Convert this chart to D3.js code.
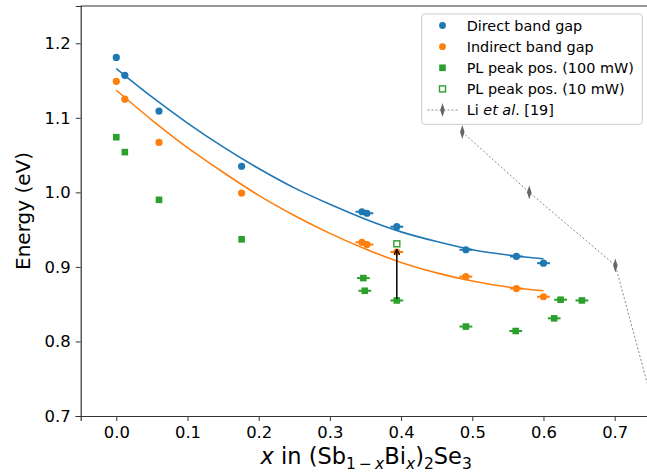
<!DOCTYPE html>
<html>
<head>
<meta charset="utf-8">
<script src="https://cdn.jsdelivr.net/npm/d3@7"></script>
<style>
  body { margin: 0; background: #fff; }
  svg text { font-family: "DejaVu Sans", sans-serif; fill: #000; }
</style>
</head>
<body>
<div id="chart"></div>
<script>
// band gaps vs Bi content
const directX = [0.0, 0.012, 0.06, 0.176, 0.345, 0.352, 0.394, 0.491, 0.562, 0.600];
const directY = [1.181, 1.157, 1.109, 1.035, 0.974, 0.972, 0.954, 0.923, 0.914, 0.905];
const directErr = [0, 0, 0, 0, 0.009, 0.009, 0.009, 0.009, 0.009, 0.009];

const indirectX = [0.0, 0.012, 0.06, 0.176, 0.345, 0.352, 0.394, 0.491, 0.562, 0.600];
const indirectY = [1.149, 1.125, 1.067, 0.999, 0.933, 0.930, 0.920, 0.887, 0.871, 0.860];
const indirectErr = [0, 0, 0, 0, 0.009, 0.009, 0.009, 0.009, 0.009, 0.009];

const pl100X = [0.0, 0.012, 0.06, 0.176, 0.347, 0.349, 0.394, 0.491, 0.561, 0.615, 0.624, 0.654];
const pl100Y = [1.074, 1.054, 0.990, 0.937, 0.885, 0.868, 0.855, 0.820, 0.814, 0.831, 0.856, 0.855];
const pl100Err = [0, 0, 0, 0, 0.009, 0.009, 0.009, 0.009, 0.009, 0.009, 0.009, 0.009];

const pl10X = [0.394];
const pl10Y = [0.931];

const liX = [0.486, 0.580, 0.701, 0.800];
const liY = [1.081, 1.000, 0.902, 0.552];

// fitted curves, sampled along the drawn lines
const fitX = [0.0, 0.05, 0.1, 0.15, 0.2, 0.25, 0.3, 0.35, 0.4, 0.45, 0.5, 0.55, 0.6];
const fitDirect = [1.166, 1.128, 1.093, 1.061, 1.032, 1.006, 0.984, 0.964, 0.947, 0.934, 0.923, 0.916, 0.911];
const fitIndirect = [1.137, 1.097, 1.060, 1.027, 0.996, 0.969, 0.945, 0.924, 0.906, 0.892, 0.881, 0.873, 0.868];

// arrow from PL 100 mW to PL 10 mW
const arrowX = 0.394;
const arrowY = [0.857, 0.923];

const xTicks = [0.0, 0.1, 0.2, 0.3, 0.4, 0.5, 0.6, 0.7];
const yTicks = [0.7, 0.8, 0.9, 1.0, 1.1, 1.2];

const legendLabels = ["Direct band gap", "Indirect band gap", "PL peak pos. (100 mW)", "PL peak pos. (10 mW)", "Li et al. [19]"];

const width = 647, height = 474;
const blue = "#1f77b4", orange = "#ff7f0e", green = "#2ca02c", grey = "#666666";

const svg = d3.select("#chart").append("svg")
  .attr("width", width)
  .attr("height", height);

// axes area runs past the right edge of the picture
const x = d3.scaleLinear().domain([-0.05, 0.752]).range([80.7, 651.7]);
const y = d3.scaleLinear().domain([0.7, 1.25]).range([416, 6]);

svg.append("defs").append("clipPath").attr("id", "plotclip")
  .append("rect")
  .attr("x", x(-0.05)).attr("y", y(1.25))
  .attr("width", x(0.752) - x(-0.05)).attr("height", y(0.7) - y(1.25));

const plot = svg.append("g").attr("clip-path", "url(#plotclip)");

// Li et al. dashed line
const line = d3.line().x(d => x(d[0])).y(d => y(d[1]));
plot.append("path")
  .datum(d3.zip(liX, liY))
  .attr("d", line)
  .attr("fill", "none")
  .attr("stroke", "#888")
  .attr("stroke-width", 1)
  .attr("stroke-dasharray", "2,2");

const diamond = d3.symbol().type(d3.symbolDiamond).size(36);
plot.selectAll(".li")
  .data(d3.zip(liX, liY))
  .enter().append("path")
  .attr("transform", d => `translate(${x(d[0])},${y(d[1])}) scale(0.7,1.25)`)
  .attr("d", diamond)
  .attr("fill", grey);

// fit curves
const curve = d3.line().x(d => x(d[0])).y(d => y(d[1])).curve(d3.curveMonotoneX);
plot.append("path").datum(d3.zip(fitX, fitDirect))
  .attr("d", curve).attr("fill", "none").attr("stroke", blue).attr("stroke-width", 1.6);
plot.append("path").datum(d3.zip(fitX, fitIndirect))
  .attr("d", curve).attr("fill", "none").attr("stroke", orange).attr("stroke-width", 1.6);

// x error bars
function errBars(xs, ys, errs, color) {
  plot.append("g").selectAll("line")
    .data(d3.range(xs.length).filter(i => errs[i] > 0))
    .enter().append("line")
    .attr("x1", i => x(xs[i] - errs[i]))
    .attr("x2", i => x(xs[i] + errs[i]))
    .attr("y1", i => y(ys[i]))
    .attr("y2", i => y(ys[i]))
    .attr("stroke", color)
    .attr("stroke-width", 2);
}
errBars(directX, directY, directErr, blue);
errBars(indirectX, indirectY, indirectErr, orange);
errBars(pl100X, pl100Y, pl100Err, green);

function circles(xs, ys, color) {
  plot.append("g").selectAll("circle")
    .data(d3.zip(xs, ys))
    .enter().append("circle")
    .attr("cx", d => x(d[0]))
    .attr("cy", d => y(d[1]))
    .attr("r", 3.6)
    .attr("fill", color);
}
circles(directX, directY, blue);
circles(indirectX, indirectY, orange);

plot.append("g").selectAll("rect")
  .data(d3.zip(pl100X, pl100Y))
  .enter().append("rect")
  .attr("x", d => x(d[0]) - 3.3)
  .attr("y", d => y(d[1]) - 3.3)
  .attr("width", 6.6).attr("height", 6.6)
  .attr("fill", green);

// arrow
svg.append("defs").append("marker")
  .attr("id", "arrowhead")
  .attr("viewBox", "0 0 10 10")
  .attr("refX", 9).attr("refY", 5)
  .attr("markerWidth", 4).attr("markerHeight", 4)
  .attr("orient", "auto")
  .append("path")
  .attr("d", "M0,0 L10,5 L0,10")
  .attr("fill", "none")
  .attr("stroke", "#000")
  .attr("stroke-width", 2);

plot.append("line")
  .attr("x1", x(arrowX)).attr("x2", x(arrowX))
  .attr("y1", y(arrowY[0])).attr("y2", y(arrowY[1]))
  .attr("stroke", "#000")
  .attr("stroke-width", 1.5)
  .attr("marker-end", "url(#arrowhead)");

plot.append("g").selectAll("rect")
  .data(d3.zip(pl10X, pl10Y))
  .enter().append("rect")
  .attr("x", d => x(d[0]) - 3)
  .attr("y", d => y(d[1]) - 3)
  .attr("width", 6).attr("height", 6)
  .attr("fill", "#fff")
  .attr("stroke", green)
  .attr("stroke-width", 1.4);

// axes
const xAxis = svg.append("g")
  .attr("transform", `translate(0,${y(0.7)})`)
  .call(d3.axisBottom(x).tickValues(xTicks).tickFormat(d3.format(".1f")).tickSizeOuter(0).tickSize(5).tickPadding(5));
const yAxis = svg.append("g")
  .attr("transform", `translate(${x(-0.05)},0)`)
  .call(d3.axisLeft(y).tickValues(yTicks).tickFormat(d3.format(".1f")).tickSizeOuter(0).tickSize(5).tickPadding(5));

[xAxis, yAxis].forEach(a => {
  a.selectAll("text").style("font-size", "16.4px").style("font-family", "DejaVu Sans");
  a.selectAll("line").attr("stroke", "#333").attr("stroke-width", 1);
  a.select(".domain").attr("stroke", "#333").attr("stroke-width", 1.2);
});

// top spine
svg.append("line")
  .attr("x1", x(-0.05)).attr("x2", width)
  .attr("y1", y(1.25)).attr("y2", y(1.25))
  .attr("stroke", "#333").attr("stroke-width", 1.2);

// axis titles
svg.append("text")
  .attr("transform", `translate(30,${(y(0.7) + y(1.25)) / 2}) rotate(-90)`)
  .attr("text-anchor", "middle")
  .style("font-size", "20px")
  .text("Energy (eV)");

const xl = svg.append("text")
  .attr("x", (x(-0.05) + x(0.752)) / 2)
  .attr("y", 464)
  .attr("text-anchor", "middle")
  .style("font-size", "22.5px");
xl.append("tspan").style("font-style", "italic").text("x");
xl.append("tspan").text(" in (Sb");
xl.append("tspan").attr("dy", 4.5).style("font-size", "15.5px").text("1\u2009\u2212\u2009");
xl.append("tspan").style("font-size", "15.5px").style("font-style", "italic").text("x");
xl.append("tspan").attr("dy", -4.5).text("Bi");
xl.append("tspan").attr("dy", 4.5).style("font-size", "15.5px").style("font-style", "italic").text("x");
xl.append("tspan").attr("dy", -4.5).text(")");
xl.append("tspan").attr("dy", 4.5).style("font-size", "15.5px").text("2");
xl.append("tspan").attr("dy", -4.5).text("Se");
xl.append("tspan").attr("dy", 4.5).style("font-size", "15.5px").text("3");

// legend
const legend = svg.append("g");
legend.append("rect")
  .attr("x", 421.7).attr("y", 14)
  .attr("width", 220.6).attr("height", 110.3)
  .attr("rx", 3)
  .attr("fill", "#fff").attr("fill-opacity", 0.85)
  .attr("stroke", "#ccc").attr("stroke-width", 1);

const rowY = d3.scalePoint().domain(d3.range(legendLabels.length)).range([25.5, 110]);
const mx = 442.5, tx = 466.7;

legend.append("circle").attr("cx", mx).attr("cy", rowY(0)).attr("r", 3.4).attr("fill", blue);
legend.append("circle").attr("cx", mx).attr("cy", rowY(1)).attr("r", 3.4).attr("fill", orange);
legend.append("rect").attr("x", mx - 3.3).attr("y", rowY(2) - 3.3).attr("width", 6.6).attr("height", 6.6).attr("fill", green);
legend.append("rect").attr("x", mx - 3).attr("y", rowY(3) - 3).attr("width", 6).attr("height", 6)
  .attr("fill", "#fff").attr("stroke", green).attr("stroke-width", 1.4);
legend.append("line").attr("x1", mx - 15).attr("x2", mx + 15).attr("y1", rowY(4)).attr("y2", rowY(4))
  .attr("stroke", "#888").attr("stroke-dasharray", "2,2");
legend.append("path").attr("d", diamond)
  .attr("transform", `translate(${mx},${rowY(4)}) scale(0.7,1.25)`).attr("fill", grey);

legendLabels.forEach((lab, i) => {
  const t = legend.append("text")
    .attr("x", tx).attr("y", rowY(i) + 5)
    .style("font-size", "14.4px");
  if (i === 4) {
    t.append("tspan").text("Li ");
    t.append("tspan").style("font-style", "italic").text("et al");
    t.append("tspan").text(". [19]");
  } else {
    t.text(lab);
  }
});
</script>
</body>
</html>
